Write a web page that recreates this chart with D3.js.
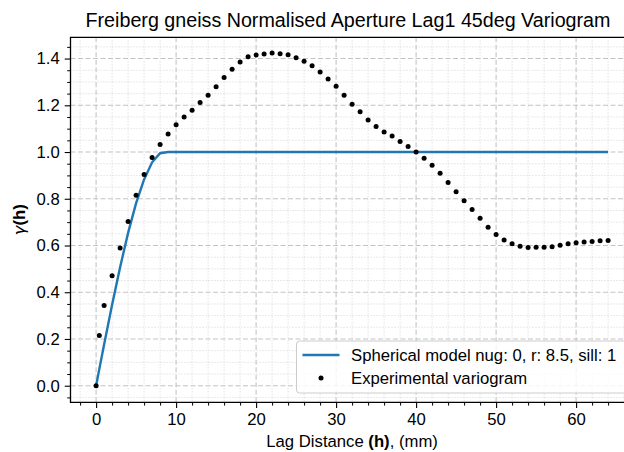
<!DOCTYPE html>
<html><head><meta charset="utf-8">
<script src="https://cdn.jsdelivr.net/npm/d3@7"></script>
<style>body{margin:0;background:#fff}svg{display:block}</style>
</head><body>
<svg id="c" width="624" height="452"></svg>
<script>
const title = "Freiberg gneiss Normalised Aperture Lag1 45deg Variogram";
const lags = [0,0.4,1,2,3,4,5,6,7,8,9,10,11,12,13,14,15,16,17,18,19,20,21,22,23,24,25,26,27,28,29,30,31,32,33,34,35,36,37,38,39,40,41,42,43,44,45,46,47,48,49,50,51,52,53,54,55,56,57,58,59,60,61,62,63,64];
const gammaExp = [0,0.215,0.343,0.471,0.589,0.703,0.815,0.904,0.977,1.032,1.077,1.117,1.150,1.179,1.212,1.243,1.279,1.319,1.354,1.385,1.408,1.415,1.419,1.424,1.421,1.416,1.403,1.388,1.369,1.343,1.313,1.281,1.243,1.205,1.172,1.137,1.109,1.086,1.069,1.045,1.024,1.000,0.973,0.943,0.909,0.870,0.830,0.791,0.754,0.717,0.678,0.647,0.624,0.608,0.597,0.591,0.592,0.592,0.595,0.601,0.607,0.612,0.615,0.617,0.620,0.621];
const modelLags = [0,0.4,1,2,3,4,5,6,7,8,9,64];
const modelGamma = [0,0.071,0.176,0.346,0.507,0.654,0.781,0.883,0.956,0.995,1,1];
const xTicks = [0,10,20,30,40,50,60];
const yTicks = [0.0,0.2,0.4,0.6,0.8,1.0,1.2,1.4];
const legendLabels = ["Spherical model nug: 0, r: 8.5, sill: 1","Experimental variogram"];

const svg = d3.select("#c");
const FONT = "Liberation Sans, Arial, Helvetica, sans-serif";
const FS = 16.7;
const L = 70.5, R = 633.7, T = 37.3, B = 402.3;
const x = d3.scaleLinear().domain([-3.2,67.2]).range([L,R]);
const y = d3.scaleLinear().domain([-0.071,1.491]).range([B,T]);

const xMinor = d3.range(-2,67,2).filter(v=>v%10!==0);
const yMinor = d3.range(-0.05,1.5,0.05).map(v=>+v.toFixed(2)).filter(v=>Math.abs(v*5-Math.round(v*5))>1e-6);

const g = svg.append("g");
// minor grid
g.selectAll(".mx").data(xMinor).join("line").attr("x1",d=>x(d)).attr("x2",d=>x(d)).attr("y1",T).attr("y2",B)
 .attr("stroke","#cfcfcf").attr("stroke-width",0.9).attr("stroke-dasharray","1,2");
g.selectAll(".my").data(yMinor).join("line").attr("y1",d=>y(d)).attr("y2",d=>y(d)).attr("x1",L).attr("x2",R)
 .attr("stroke","#cfcfcf").attr("stroke-width",0.9).attr("stroke-dasharray","1,2");
// major grid
g.selectAll(".Mx").data(xTicks).join("line").attr("x1",d=>x(d)).attr("x2",d=>x(d)).attr("y1",T).attr("y2",B)
 .attr("stroke","#c4c4c4").attr("stroke-width",1.1).attr("stroke-dasharray","5,2.5");
g.selectAll(".My").data(yTicks).join("line").attr("y1",d=>y(d)).attr("y2",d=>y(d)).attr("x1",L).attr("x2",R)
 .attr("stroke","#c4c4c4").attr("stroke-width",1.1).attr("stroke-dasharray","5,2.5");

// model line
const line = d3.line().x(d=>x(d[0])).y(d=>y(d[1]));
svg.append("path").datum(modelLags.map((v,i)=>[v,modelGamma[i]])).attr("d",line)
  .attr("fill","none").attr("stroke","#1f77b4").attr("stroke-width",2.4);
// points
svg.append("g").selectAll("circle").data(lags.map((v,i)=>[v,gammaExp[i]])).join("circle")
  .attr("cx",d=>x(d[0])).attr("cy",d=>y(d[1])).attr("r",2.5).attr("fill","#000");

// axes
const xAxis = d3.axisBottom(x).tickValues(xTicks).tickFormat(d3.format("d")).tickSize(5.8).tickPadding(5);
const xAx = svg.append("g").attr("transform",`translate(0,${B})`).call(xAxis);
const yAxis = d3.axisLeft(y).tickValues(yTicks).tickFormat(d3.format(".1f")).tickSize(5.8).tickPadding(5);
const yAx = svg.append("g").attr("transform",`translate(${L},0)`).call(yAxis);
[xAx,yAx].forEach(a=>{a.select(".domain").remove();a.selectAll("text").attr("font-family",FONT).attr("font-size",FS).attr("fill","#000");a.selectAll("line").attr("stroke","#000").attr("stroke-width",1.1);});
svg.append("g").attr("transform",`translate(0,${B})`).call(d3.axisBottom(x).tickValues(xMinor).tickSize(3.3).tickFormat("")).call(a=>a.select(".domain").remove()).selectAll("line").attr("stroke","#000");
svg.append("g").attr("transform",`translate(${L},0)`).call(d3.axisLeft(y).tickValues(yMinor).tickSize(3.3).tickFormat("")).call(a=>a.select(".domain").remove()).selectAll("line").attr("stroke","#000");
// spines
svg.append("path").attr("d",`M${R},${T}H${L}V${B}H${R}`).attr("fill","none").attr("stroke","#000").attr("stroke-width",1.3);

// title
svg.append("text").attr("x",348).attr("y",27).attr("text-anchor","middle").attr("font-family",FONT).attr("font-size",19.7).text(title);
// x label
const xl = svg.append("text").attr("x",(L+R)/2).attr("y",447).attr("text-anchor","middle").attr("font-family",FONT).attr("font-size",FS);
xl.append("tspan").text("Lag Distance ");
xl.append("tspan").attr("font-weight","bold").text("(h)");
xl.append("tspan").text(", (mm)");
// y label
const yl = svg.append("text").attr("transform",`translate(25,${(T+B)/2}) rotate(-90)`).attr("text-anchor","middle").attr("font-family",FONT).attr("font-size",FS);
yl.append("tspan").attr("font-family","DejaVu Sans").attr("font-style","italic").text("γ");
yl.append("tspan").attr("font-weight","bold").text("(h)");

// legend
const lg = svg.append("g");
lg.append("rect").attr("x",296.5).attr("y",341).attr("width",330).attr("height",52).attr("rx",3)
  .attr("fill","#fff").attr("fill-opacity",0.8).attr("stroke","#cccccc").attr("stroke-width",1);
lg.append("line").attr("x1",302.5).attr("x2",339.5).attr("y1",355).attr("y2",355).attr("stroke","#1f77b4").attr("stroke-width",2.4);
lg.append("circle").attr("cx",321).attr("cy",378).attr("r",2.5).attr("fill","#000");
legendLabels.forEach((t,i)=>{
  lg.append("text").attr("x",351).attr("y",355+i*23).attr("dy","0.35em").attr("font-family",FONT).attr("font-size",FS).text(t);
});
</script>
</body></html>
